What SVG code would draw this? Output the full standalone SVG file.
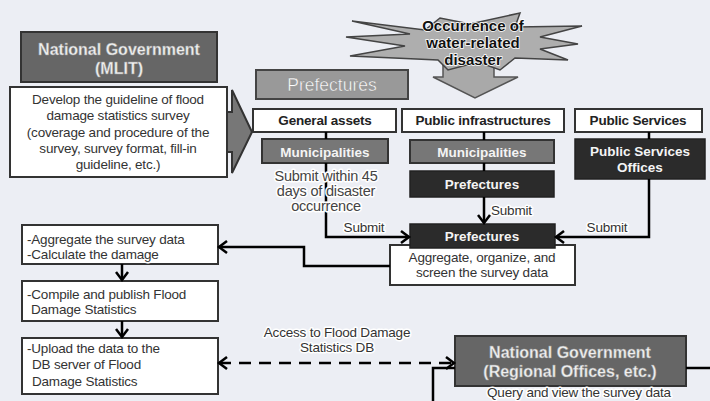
<svg xmlns="http://www.w3.org/2000/svg" width="710" height="401" viewBox="0 0 710 401">
<defs>
<style>
text{font-family:"Liberation Sans",Arial,sans-serif;text-anchor:middle}
.r{font-size:13.5px;fill:#333;stroke:#fff;stroke-width:3;paint-order:stroke;stroke-linejoin:round;letter-spacing:-0.2px}
.rl{font-size:13.5px;fill:#333;stroke:#fff;stroke-width:3;paint-order:stroke;stroke-linejoin:round;text-anchor:start;letter-spacing:-0.2px}
.b{font-size:13.5px;font-weight:bold;fill:#222;stroke:#fff;stroke-width:2;paint-order:stroke;letter-spacing:-0.2px}
.w{font-size:13.5px;font-weight:bold;fill:#f4f4f4}
.big{font-size:16px;font-weight:bold;fill:#f0f0f0;stroke:#999;stroke-width:0.4}
.star{font-size:15px;font-weight:bold;fill:#111;stroke:#fff;stroke-width:1.5;paint-order:stroke}
.bx{fill:#fff;stroke:#333;stroke-width:2}
.dk{fill:#2b2b2b;stroke:#222;stroke-width:1.5}
.md{fill:#777;stroke:#333;stroke-width:2}
.gv{fill:#666;stroke:#333;stroke-width:2}
.ln{fill:none;stroke:#000;stroke-width:2.5}
</style>
<marker id="ah" markerUnits="userSpaceOnUse" markerWidth="14" markerHeight="16" refX="11" refY="8" orient="auto-start-reverse">
<polyline points="3,2 11,8 3,14" fill="none" stroke="#000" stroke-width="2.5"/>
</marker>
</defs>
<rect width="710" height="401" fill="#ECEEF4"/>

<g id="mlit">
<rect class="gv" x="21" y="32" width="196" height="50"/>
<text class="big" x="119" y="55">National Government</text>
<text class="big" x="119" y="74">(MLIT)</text>
</g>

<g id="guideline">
<polygon points="222,112 232,112 232,90 252,132 232,173 232,152 222,152" fill="#777" stroke="#333" stroke-width="2"/>
<rect class="bx" x="10" y="87" width="217" height="90"/>
<text class="r" x="118" y="104">Develop the guideline of flood</text>
<text class="r" x="118" y="120">damage statistics survey</text>
<text class="r" x="118" y="137">(coverage and procedure of the</text>
<text class="r" x="118" y="153">survey, survey format, fill-in</text>
<text class="r" x="118" y="169">guideline, etc.)</text>
</g>

<g id="disaster">
<polygon points="443,60 494,60 494,77 518,77 475,98 433,77 443,77" fill="#A9A9A9" stroke="#555" stroke-width="1.5"/>
<polygon points="352,21 425,30 440,18 470,24 520,13 515,27 582,26 540,37 578,44 540,49 568,60 515,58 500,70 478,62 448,70 438,60 350,56 405,46 346,37 410,34" fill="#AEAEAE" stroke="#444" stroke-width="1.5"/>
<text class="star" x="473" y="31">Occurrence of</text>
<text class="star" x="473" y="48">water-related</text>
<text class="star" x="473" y="65">disaster</text>
</g>

<g id="prefectures-header">
<rect x="256" y="70" width="152" height="29" fill="#999" stroke="#444" stroke-width="2"/>
<text x="332" y="91" style="font-size:17.5px;fill:#fff;stroke:#888;stroke-width:0.4">Prefectures</text>
</g>

<g id="general-assets">
<rect class="bx" x="253" y="109" width="143" height="23"/>
<text class="b" x="325" y="125">General assets</text>
</g>
<g id="public-infrastructures">
<rect class="bx" x="402" y="109" width="162" height="23"/>
<text class="b" x="483" y="125">Public infrastructures</text>
</g>
<g id="public-services">
<rect class="bx" x="575" y="109" width="127" height="23"/>
<text class="b" x="638" y="125">Public Services</text>
</g>

<g id="municipalities-1">
<rect class="md" x="262" y="139" width="126" height="24"/>
<text class="w" x="325" y="157">Municipalities</text>
</g>
<g id="municipalities-2">
<rect class="md" x="410" y="140" width="144" height="23"/>
<text class="w" x="482" y="157">Municipalities</text>
</g>
<g id="prefectures-2">
<rect class="dk" x="410" y="171" width="144" height="26"/>
<text class="w" x="482" y="189">Prefectures</text>
</g>
<g id="public-services-offices">
<rect class="dk" x="575" y="139" width="130" height="40"/>
<text class="w" x="640" y="156">Public Services</text>
<text class="w" x="640" y="172">Offices</text>
</g>

<g id="prefectures-main">
<rect class="bx" x="390" y="245" width="185" height="40"/>
<rect class="dk" x="410" y="224" width="145" height="24"/>
<text class="w" x="482" y="241">Prefectures</text>
<text class="r" x="482" y="262">Aggregate, organize, and</text>
<text class="r" x="482" y="277">screen the survey data</text>
</g>

<g id="aggregate">
<rect class="bx" x="22" y="225" width="196" height="39"/>
<text class="rl" x="27" y="244">-Aggregate the survey data</text>
<text class="rl" x="27" y="259">-Calculate the damage</text>
</g>
<g id="compile">
<rect class="bx" x="22" y="281" width="196" height="40"/>
<text class="rl" x="27" y="299">-Compile and publish Flood</text>
<text class="rl" x="31" y="314">Damage Statistics</text>
</g>
<g id="upload">
<rect class="bx" x="22" y="338" width="196" height="56"/>
<text class="rl" x="27" y="353">-Upload the data to the</text>
<text class="rl" x="32" y="369">DB server of Flood</text>
<text class="rl" x="32" y="386">Damage Statistics</text>
</g>

<g id="regional">
<rect class="gv" x="455" y="336" width="231" height="50"/>
<text class="big" x="570" y="358">National Government</text>
<text class="big" x="570" y="377">(Regional Offices, etc.)</text>
<text class="r" x="579" y="397">Query and view the survey data</text>
</g>

<g id="connectors">
<line class="ln" x1="326" y1="132" x2="326" y2="139"/>
<line class="ln" x1="484" y1="132" x2="484" y2="140"/>
<line class="ln" x1="484" y1="163" x2="484" y2="171"/>
<line class="ln" x1="649" y1="132" x2="649" y2="139"/>
<polyline class="ln" points="326,163 326,237 409,237" marker-end="url(#ah)"/>
<line class="ln" x1="484" y1="197" x2="484" y2="223" marker-end="url(#ah)"/>
<polyline class="ln" points="649,179 649,237 556,237" marker-end="url(#ah)"/>
<polyline class="ln" points="390,266 304,266 304,247 219,247" marker-end="url(#ah)"/>
<line class="ln" x1="122" y1="264" x2="122" y2="280" marker-end="url(#ah)"/>
<line class="ln" x1="122" y1="321" x2="122" y2="337" marker-end="url(#ah)"/>
<line class="ln" x1="219" y1="363" x2="454" y2="363" stroke-width="3" stroke-dasharray="12,8" marker-start="url(#ah)" marker-end="url(#ah)"/>
<polyline class="ln" points="433,401 433,368 455,368"/>
<line class="ln" x1="686" y1="368" x2="710" y2="368"/>
<text class="r" x="326" y="181" style="font-size:14.5px;fill:#444">Submit within 45</text>
<text class="r" x="326" y="196" style="font-size:14.5px;fill:#444">days of disaster</text>
<text class="r" x="326" y="211" style="font-size:14.5px;fill:#444">occurrence</text>
<text class="r" x="364" y="232">Submit</text>
<text class="rl" x="491" y="215">Submit</text>
<text class="r" x="607" y="232">Submit</text>
<text class="r" x="337" y="337">Access to Flood Damage</text>
<text class="r" x="337" y="352">Statistics DB</text>
</g>
</svg>
